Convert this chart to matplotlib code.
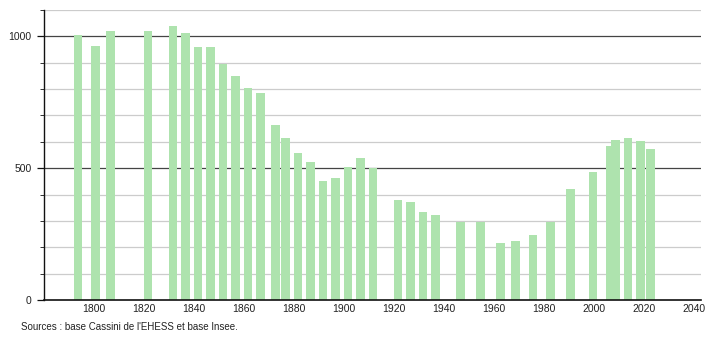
import matplotlib
matplotlib.use("Agg")
import matplotlib.pyplot as plt
from matplotlib.ticker import MultipleLocator

years = [1793, 1800, 1806, 1821, 1831, 1836, 1841, 1846, 1851, 1856, 1861, 1866,
         1872, 1876, 1881, 1886, 1891, 1896, 1901, 1906, 1911, 1921, 1926, 1931,
         1936, 1946, 1954, 1962, 1968, 1975, 1982, 1990, 1999, 2006, 2008, 2013,
         2018, 2022]
population = [1007, 963, 1020, 1020, 1039, 1014, 960, 958, 897, 850, 806, 787,
              664, 616, 559, 525, 451, 463, 503, 538, 500, 380, 371, 335,
              322, 297, 297, 215, 224, 247, 297, 420, 486, 583, 608, 616,
              605, 573]
x_ticks = [1800, 1820, 1840, 1860, 1880, 1900, 1920, 1940, 1960, 1980, 2000, 2020, 2040]
y_ticks = [0, 500, 1000]
source_text = "Sources : base Cassini de l'EHESS et base Insee."

plt.rcParams['font.family'] = ['Liberation Sans', 'DejaVu Sans']

fig = plt.figure(figsize=(7.1, 3.4), dpi=100)
ax = fig.add_axes([0.062, 0.1176, 0.925, 0.853])

ax.set_xlim(1780, 2042.7)
ax.set_ylim(0, 1100)

# grid lines
for v in range(100, 1101, 100):
    if v % 500 == 0:
        ax.axhline(v, color='#444444', lw=0.9, zorder=1)
    else:
        ax.axhline(v, color='#cccccc', lw=0.9, zorder=1)

ax.bar([y + 0.6 for y in years], population, width=3.3, color='#aee3ae',
       edgecolor='none', zorder=2)

for s in ['top', 'right']:
    ax.spines[s].set_visible(False)
ax.spines['left'].set_color('#111111')
ax.spines['bottom'].set_color('#111111')
ax.spines['left'].set_linewidth(1.0)
ax.spines['bottom'].set_linewidth(1.2)

ax.set_xticks(x_ticks)
ax.set_xticklabels([str(t) for t in x_ticks])
ax.set_yticks(y_ticks)
ax.set_yticklabels([str(t) for t in y_ticks])
ax.yaxis.set_minor_locator(MultipleLocator(100))
ax.tick_params(axis='x', length=0, pad=3, labelsize=7.5, labelcolor='#222222')
ax.tick_params(axis='y', which='major', length=5, width=0.9, pad=4,
               labelsize=7.5, labelcolor='#222222', color='#111111')
ax.tick_params(axis='y', which='minor', length=3, width=0.6, color='#111111')

fig.text(0.029, 0.038, source_text, fontsize=7, color='#222222', ha='left', va='center')

fig.savefig('out.png', dpi=100)
